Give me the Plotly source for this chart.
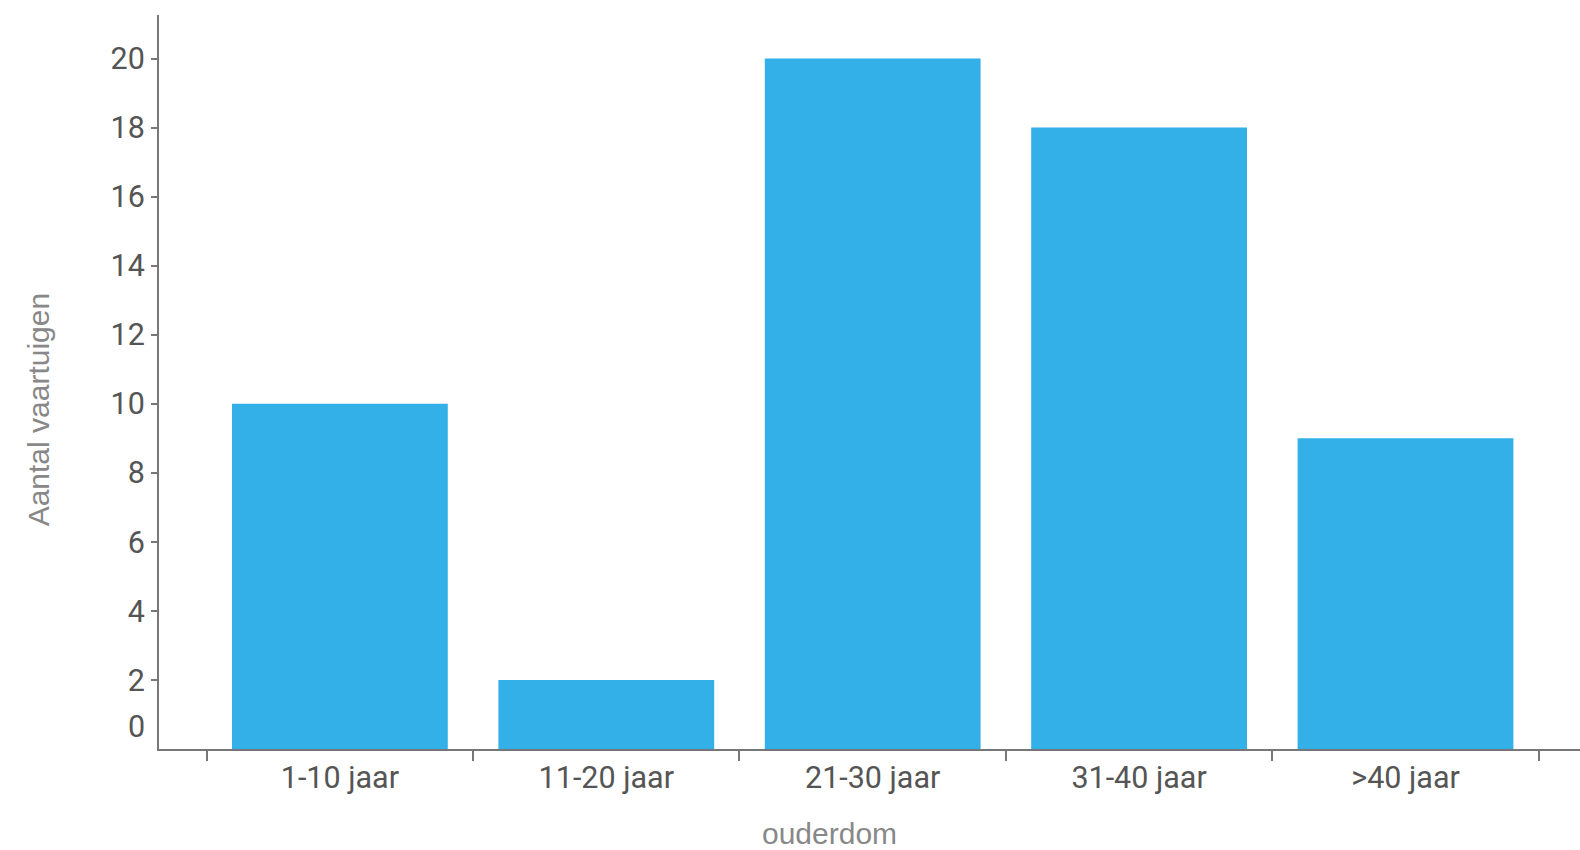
import plotly.graph_objects as go

categories = ['1-10 jaar', '11-20 jaar', '21-30 jaar', '31-40 jaar', '>40 jaar']
aantal = [10, 2, 20, 18, 9]
y_ticks = [2, 4, 6, 8, 10, 12, 14, 16, 18, 20]

fig = go.Figure()
fig.add_trace(go.Bar(x=categories, y=aantal, marker_color='#33b0e8', marker_line_width=0))

fig.update_layout(
    width=1580, height=850,
    margin=dict(l=159, r=0, t=15, b=101),
    plot_bgcolor='white', paper_bgcolor='white',
    bargap=0.19, showlegend=False,
    font=dict(family='Roboto', size=30.5, color='#555555'),
)
fig.update_xaxes(
    range=[-0.679, 4.655], tickson='boundaries',
    ticks='outside', ticklen=10, tickwidth=1.5, tickcolor='#777777',
    showline=True, linecolor='#777777', linewidth=2,
    showgrid=False, zeroline=False,
)
fig.update_yaxes(
    range=[0, 21.26], tickvals=y_ticks,
    ticks='outside', ticklen=6, tickwidth=1.5, tickcolor='#777777',
    showline=True, linecolor='#777777', linewidth=2,
    showgrid=False, zeroline=False,
)
# zero label sits above the axis line, without a tick
fig.add_annotation(x=0, xref='paper', y=0, yref='y', text='0', showarrow=False,
                   xanchor='right', xshift=-12, yshift=23, font=dict(size=30.5, color='#555555'))
title_font = dict(family='Liberation Sans, Arial', size=30, color='#888888')
fig.add_annotation(x=0.4715, xref='paper', y=-0.1158, yref='paper', text='ouderdom',
                   showarrow=False, xanchor='center', yanchor='middle', font=title_font)
fig.add_annotation(x=-0.0849, xref='paper', y=0.4632, yref='paper',
                   text='Aantal vaartuigen', textangle=-90, showarrow=False,
                   xanchor='center', yanchor='middle', font=title_font)

fig.write_html('out.html', config={'displayModeBar': False},
               post_script="document.body.style.margin='0';")
